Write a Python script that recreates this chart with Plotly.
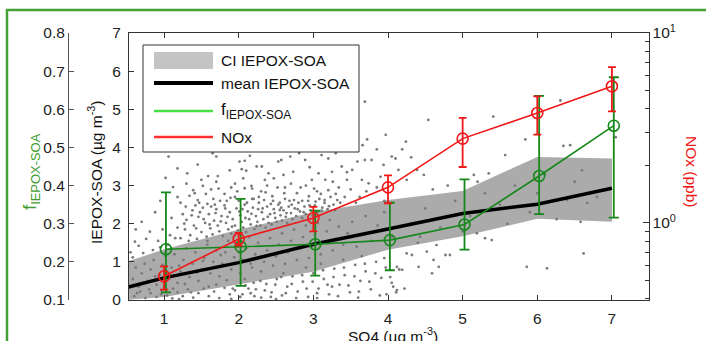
import numpy as np
import plotly.graph_objects as go

# ---------------- data ----------------
so4_bins = [1, 2, 3, 4, 5, 6, 7]

# f_IEPOX-SOA (left outer axis)
f_mean = [0.233, 0.240, 0.246, 0.257, 0.298, 0.425, 0.557]
f_high = [0.382, 0.365, 0.334, 0.355, 0.416, 0.635, 0.684]
f_low = [0.120, 0.137, 0.164, 0.178, 0.232, 0.325, 0.316]

# NOx (right log axis)
nox_mean = [0.524, 0.824, 1.062, 1.54, 2.78, 3.79, 5.24]
nox_high = [0.591, 0.886, 1.214, 1.78, 3.57, 4.64, 6.62]
nox_low = [0.446, 0.760, 0.903, 1.27, 1.97, 2.92, 3.87]

# mean IEPOX-SOA and its confidence interval
mean_x = [0.5, 1, 2, 3, 4, 5, 6, 7]
mean_soa = [0.33, 0.58, 0.98, 1.46, 1.86, 2.27, 2.51, 2.93]
ci_x = [0.5, 1, 2, 3, 4, 5, 6, 7]
ci_upper = [1.00, 1.33, 1.85, 2.30, 2.62, 2.86, 3.75, 3.71]
ci_lower = [0.00, 0.08, 0.40, 0.74, 1.32, 1.67, 2.13, 2.05]

scatter_so4 = [
    3.69, 3.72, 3.66, 2.81, 3.11, 3.20, 2.89, 2.57, 2.69, 2.24, 2.31, 2.53, 3.38, 3.59, 3.69, 3.78, 3.52, 3.25, 3.07, 2.73,
    1.06, 1.70, 2.01, 2.08, 1.31, 1.59, 1.72, 2.04, 2.10, 4.54, 3.97, 4.24, 4.19, 4.05, 4.10, 4.31, 3.94, 4.14, 4.39, 4.48,
    3.90, 4.25, 5.41, 5.57, 5.84, 6.31, 6.35, 6.44, 7.05, 5.35, 5.15,
    2.60, 2.35, 2.47, 2.98, 3.16, 3.26, 3.45, 3.65, 3.74, 1.50, 1.70, 2.06, 1.12, 1.52, 1.63, 1.41, 1.34, 1.81, 2.08, 2.17,
    0.95, 1.22, 1.45, 1.90, 2.30, 2.45, 2.62, 2.78, 2.90, 3.05, 3.30, 3.50, 3.62, 3.85, 3.95, 2.20, 2.55, 2.85, 3.15, 1.75,
    1.95, 2.38, 1.58,
    1.22, 1.28, 1.30, 1.35, 1.38, 1.40, 1.44, 1.46, 1.50, 1.52, 1.55, 1.57, 1.60, 1.62, 1.65, 1.67, 1.70, 1.72, 1.74, 1.77,
    1.79, 1.81, 1.83, 1.86, 1.88, 1.90, 1.92, 1.95, 1.97, 1.99, 2.02, 2.04, 2.06, 2.08, 2.10, 2.12, 2.14, 2.16, 2.19, 2.21,
    2.23, 2.25, 2.27, 2.29, 2.31, 2.33, 2.36, 2.38, 2.40, 2.42, 2.44, 2.47, 2.49, 2.51, 2.53, 2.56, 2.58, 2.60, 2.63, 2.65,
    2.67, 2.70, 2.72, 2.75, 2.77, 2.80, 2.82, 2.85, 2.88, 2.90, 2.93, 2.96, 2.99, 3.02, 3.05, 3.08, 3.12, 3.15, 3.19, 3.23,
    3.27, 3.32, 1.25, 1.33, 1.48, 1.58, 1.68, 1.84, 1.94, 2.00, 2.18, 2.34, 2.46, 2.62, 2.74, 1.42, 1.63, 2.05, 2.26, 2.57,
    0.70, 0.81, 0.61, 0.85, 0.72, 0.58, 0.66, 0.92, 0.98, 1.05, 1.10, 1.15, 0.88, 1.02, 0.76, 1.18, 0.95, 1.08, 0.62, 0.55,
    0.58, 0.62, 0.66, 0.70, 0.74, 0.78, 0.82, 0.86, 0.90, 0.94, 0.98, 1.02, 1.06, 1.10, 1.14, 1.18, 1.22, 1.26, 1.30, 1.34,
    1.38, 1.42, 1.46, 1.50, 1.54, 1.58, 1.62, 1.66, 1.70, 1.74, 1.78, 1.82, 1.86, 1.90, 1.94, 1.98, 2.02, 2.06, 2.10, 2.14,
    2.18, 2.22, 2.26, 2.30, 2.34, 2.38, 2.42, 2.46, 2.50, 2.54, 2.58, 2.62, 2.66, 2.70, 2.74, 2.78, 2.82, 2.86, 2.90, 2.94,
    2.98, 3.02, 3.06, 3.10, 3.14, 3.18, 3.22, 3.26, 3.30, 3.34, 3.40, 3.46, 3.52, 3.58, 3.64, 3.70, 3.78, 3.86, 3.95, 4.05,
    0.60, 0.68, 0.75, 0.82, 0.90, 0.97, 1.04, 1.11, 1.18, 1.25, 1.32, 1.39, 1.46, 1.53, 1.60, 1.67, 1.74, 1.81, 1.88, 1.95,
    2.02, 2.09, 2.16, 2.23, 2.30, 2.37, 2.44, 2.51, 2.58, 2.65, 2.72, 2.79, 2.86, 2.93, 3.00, 3.07, 3.14, 3.21, 3.28, 3.35,
    3.42, 3.49, 3.56, 3.63, 3.70, 3.77, 3.84, 3.91, 3.98, 4.05, 4.15, 4.22, 1.00, 1.70, 2.20, 2.60, 2.90, 3.10, 3.40, 3.65,
    3.95, 1.20, 1.90, 2.50, 3.05, 3.60, 3.25,
    4.30, 4.50, 4.70, 4.90, 5.10, 5.30, 5.50, 5.70, 5.90, 6.10, 6.50, 6.80, 4.40, 4.60, 5.00, 5.20, 6.00, 6.60, 4.80, 5.60,
    6.40, 6.67, 6.58, 6.26,
    5.30, 5.39, 5.19, 4.65, 4.83, 4.77, 4.61, 4.52, 4.68, 4.59, 4.41, 4.25, 4.19, 4.12, 4.07, 4.12, 5.86, 6.13, 6.62, 4.43,
    4.32,
    1.27, 1.37, 1.43, 1.53, 1.61, 1.69, 1.76, 1.85, 1.91, 2.01, 2.09, 2.17, 2.24, 2.32, 2.39, 2.48, 2.55, 2.64, 2.71, 2.79,
    2.87, 2.95, 3.03, 3.11, 3.21, 3.29, 3.36,
    1.18, 1.29, 1.39, 1.47, 1.56, 1.66, 1.73, 1.82, 1.89, 1.98, 2.11, 2.18, 2.27, 2.36, 2.43, 2.52, 2.61, 2.68, 2.83, 2.94,
    3.01, 3.10, 3.20, 3.34, 3.42, 3.57, 3.71,
    1.02, 1.18, 1.45, 1.65, 1.88, 2.15, 2.40, 2.65, 2.95, 3.30, 3.55, 3.85, 1.30, 1.95, 2.70, 3.45,
    0.64, 0.72, 0.80, 0.88, 0.96, 1.04, 1.12, 1.20, 1.28, 1.36, 1.44, 1.52, 1.60, 1.68, 1.76, 1.84, 1.92, 2.00, 2.08, 2.16,
    2.05, 2.13, 2.21, 2.29, 2.35, 2.43, 2.49, 2.57, 2.63, 2.71, 2.77, 2.85, 2.91, 2.99, 3.05, 3.13, 3.19, 3.27, 3.33, 3.41,
    3.47, 3.55, 3.61, 3.69, 3.75, 3.83, 3.89, 3.97, 4.03, 4.11,
]
scatter_soa = [
    5.20, 4.21, 4.06, 3.85, 3.80, 3.71, 3.67, 3.67, 3.76, 3.50, 3.50, 3.63, 3.50, 3.63, 3.67, 3.67, 3.41, 3.36, 3.32, 3.36,
    3.76, 3.76, 3.63, 3.65, 3.32, 3.25, 3.25, 3.43, 3.39, 4.72, 4.33, 4.15, 3.95, 3.76, 3.71, 3.74, 3.54, 3.41, 3.41, 3.28,
    3.23, 3.15, 4.81, 3.80, 4.21, 5.23, 4.04, 4.06, 4.27, 3.32, 3.28,
    3.28, 3.15, 3.19, 3.15, 3.15, 3.10, 3.15, 3.15, 3.06, 3.15, 3.10, 3.19, 2.96, 2.99, 2.90, 2.80, 2.73, 2.78, 2.93, 2.99,
    2.60, 2.55, 2.62, 2.95, 2.85, 2.72, 2.95, 2.80, 3.00, 2.85, 2.78, 2.90, 2.70, 2.95, 2.60, 2.65, 2.55, 2.60, 2.62, 2.60,
    2.70, 3.00, 2.52,
    1.62, 1.85, 2.10, 1.70, 2.35, 1.95, 1.60, 2.18, 1.78, 2.42, 2.02, 1.66, 2.25, 1.88, 1.72, 2.08, 2.38, 1.95, 1.80, 2.20,
    1.68, 2.48, 2.02, 1.85, 2.30, 1.74, 2.12, 1.95, 2.40, 1.82, 2.22, 2.05, 1.90, 2.50, 1.78, 2.32, 2.12, 1.98, 2.42, 1.86,
    2.20, 2.05, 2.55, 1.95, 2.30, 2.12, 1.90, 2.45, 2.02, 2.25, 1.98, 2.38, 2.15, 2.05, 2.50, 2.22, 2.08, 2.35, 2.18, 2.02,
    2.45, 2.28, 2.12, 2.40, 2.20, 2.55, 2.32, 2.15, 2.45, 2.25, 2.60, 2.35, 2.22, 2.48, 2.30, 2.65, 2.42, 2.55, 2.38, 2.70,
    2.50, 2.62, 2.25, 1.55, 2.30, 1.55, 2.50, 2.60, 1.68, 2.60, 2.65, 2.62, 2.60, 2.65, 2.62, 2.48, 2.45, 2.38, 2.38, 2.42,
    2.05, 1.79, 1.53, 1.31, 1.23, 1.12, 1.42, 1.55, 1.85, 1.45, 2.15, 1.62, 2.30, 1.25, 1.60, 1.90, 1.38, 1.70, 1.85, 1.25,
    0.55, 0.85, 0.35, 0.70, 0.95, 0.50, 0.80, 1.05, 0.40, 0.65, 0.92, 1.15, 0.55, 0.85, 1.20, 0.45, 0.75, 1.05, 1.35, 0.60,
    0.95, 1.25, 0.50, 0.80, 1.10, 1.45, 0.70, 1.00, 1.30, 0.62, 0.95, 1.25, 1.55, 0.80, 1.12, 1.40, 0.70, 1.05, 1.35, 1.65,
    0.85, 1.20, 1.50, 0.75, 1.00, 1.30, 1.62, 0.90, 1.15, 1.45, 1.75, 0.95, 1.25, 1.55, 1.85, 1.05, 1.35, 1.65, 1.95, 1.10,
    1.40, 1.72, 2.02, 1.20, 1.50, 1.80, 2.10, 1.30, 1.60, 1.92, 1.45, 1.75, 2.05, 1.40, 1.70, 2.20, 1.55, 1.95, 2.30, 1.65,
    0.10, 0.22, 0.05, 0.18, 0.08, 0.25, 0.12, 0.04, 0.20, 0.10, 0.28, 0.06, 0.18, 0.30, 0.10, 0.22, 0.05, 0.32, 0.15, 0.25,
    0.08, 0.38, 0.18, 0.28, 0.06, 0.42, 0.20, 0.55, 0.12, 0.35, 0.62, 0.22, 0.48, 0.08, 0.70, 0.30, 0.55, 0.15, 0.82, 0.40,
    0.65, 0.20, 0.92, 0.50, 0.75, 0.28, 1.00, 0.58, 0.15, 0.45, 0.80, 0.30, 0.35, 0.40, 0.45, 0.70, 0.85, 0.95, 1.05, 1.15,
    1.10, 0.02, 0.03, 0.02, 0.05, 0.06, 0.35,
    2.00, 2.40, 1.90, 2.60, 2.20, 2.80, 2.50, 3.00, 2.30, 3.30, 3.10, 2.70, 1.50, 2.90, 1.80, 3.10, 2.80, 3.40, 3.00, 2.00,
    2.62, 2.54, 2.05, 2.12,
    1.62, 1.57, 1.75, 1.44, 1.18, 1.18, 1.05, 1.27, 0.87, 0.70, 0.87, 1.22, 0.79, 0.87, 0.35, 0.26, 0.87, 0.83, 1.22, 1.66,
    1.18,
    2.00, 2.22, 1.88, 2.12, 1.98, 2.28, 2.06, 2.18, 1.92, 2.32, 2.15, 2.26, 1.94, 2.40, 2.18, 2.28, 2.36, 2.28, 2.50, 2.38,
    2.30, 2.48, 2.58, 2.34, 2.46, 2.36, 2.55,
    2.70, 2.45, 2.88, 2.55, 2.78, 2.65, 2.92, 2.40, 2.68, 2.85, 2.55, 2.92, 2.70, 2.82, 2.52, 2.95, 2.80, 2.60, 2.95, 2.72,
    2.92, 2.78, 2.88, 2.95, 2.70, 2.55, 2.85,
    3.20, 3.45, 3.55, 3.85, 3.40, 3.78, 3.32, 3.95, 3.48, 3.85, 4.35, 3.95, 3.05, 3.05, 3.05, 3.35,
    0.18, 0.45, 0.28, 0.62, 0.15, 0.75, 0.30, 0.90, 0.42, 0.20, 0.72, 1.02, 0.35, 0.85, 1.18, 0.52, 0.30, 1.25, 0.55, 0.95,
    0.15, 0.30, 0.10, 0.50, 0.25, 0.08, 0.40, 0.60, 0.18, 0.42, 0.05, 0.65, 0.30, 0.48, 0.18, 0.78, 0.40, 0.60, 0.10, 0.85,
    0.38, 0.62, 0.22, 0.95, 0.48, 0.70, 0.12, 0.85, 0.60, 0.20,
]

# ---------------- styling helpers ----------------
W, H = 706, 341
FONT = "Liberation Sans, Arial, sans-serif"
FS = 15.5
GREEN = "#16871a"
RED = "#f01818"
AXC = "#333333"


def px(x):
    return x / W


def py(y):
    return 1 - y / H


fig = go.Figure()

# confidence interval band
fig.add_trace(go.Scatter(
    x=ci_x + ci_x[::-1], y=ci_upper + ci_lower[::-1], fill="toself",
    fillcolor="#ababab", line=dict(width=0, color="#ababab"), mode="lines",
    hoverinfo="skip", showlegend=False))

# observations
fig.add_trace(go.Scatter(
    x=scatter_so4, y=scatter_soa, mode="markers",
    marker=dict(size=2.8, color="#7a7a7a"), hoverinfo="skip", showlegend=False))

# mean IEPOX-SOA
fig.add_trace(go.Scatter(
    x=mean_x, y=mean_soa, mode="lines", line=dict(color="black", width=3.5),
    showlegend=False))

# f IEPOX-SOA
fig.add_trace(go.Scatter(
    x=[v + 0.025 for v in so4_bins], y=f_mean, yaxis="y2", mode="lines+markers",
    line=dict(color=GREEN, width=1.6),
    marker=dict(symbol="circle-open", size=11, color=GREEN, line=dict(width=1.6, color=GREEN)),
    error_y=dict(type="data", symmetric=False,
                 array=[h - m for h, m in zip(f_high, f_mean)],
                 arrayminus=[m - l for m, l in zip(f_mean, f_low)],
                 color=GREEN, thickness=1.8, width=5),
    showlegend=False))

# NOx
fig.add_trace(go.Scatter(
    x=so4_bins, y=nox_mean, yaxis="y3", mode="lines+markers",
    line=dict(color=RED, width=1.6),
    marker=dict(symbol="circle-open", size=11, color=RED, line=dict(width=1.6, color=RED)),
    error_y=dict(type="data", symmetric=False,
                 array=[h - m for h, m in zip(nox_high, nox_mean)],
                 arrayminus=[m - l for m, l in zip(nox_mean, nox_low)],
                 color=RED, thickness=1.8, width=4),
    showlegend=False))

tickfont = dict(family=FONT, size=FS, color="#222222")
dom_y = [py(300), py(33)]

fig.update_layout(
    width=W, height=H, autosize=False,
    margin=dict(l=0, r=0, t=0, b=0, pad=0),
    paper_bgcolor="white", plot_bgcolor="white",
    showlegend=False,
    font=dict(family=FONT, size=FS, color="#222222"),
    xaxis=dict(domain=[px(129), px(648.5)], range=[0.53, 7.49], tickvals=so4_bins,
               ticks="inside", ticklen=5, tickcolor=AXC, showline=True, linecolor=AXC,
               linewidth=1, mirror="ticks", showgrid=False, zeroline=False,
               tickfont=tickfont, automargin=False, anchor="y", ticklabelstandoff=4),
    yaxis=dict(domain=dom_y, range=[0, 7], dtick=1, ticks="inside", ticklen=5,
               tickcolor=AXC, showline=True, linecolor=AXC, linewidth=1, mirror=True,
               showgrid=False, zeroline=False, tickfont=tickfont, automargin=False,
               anchor="x", ticklabelstandoff=4),
    yaxis2=dict(overlaying="y", anchor="free", position=px(68), side="left",
                range=[0.1, 0.8], dtick=0.1, tickformat=".1f", ticks="inside", ticklen=5,
                tickcolor="#555555", showline=True, linecolor="#555555", linewidth=1,
                showgrid=False, zeroline=False, tickfont=tickfont, automargin=False),
    yaxis3=dict(overlaying="y", anchor="x", side="right", type="log",
                range=[np.log10(0.393), 1], tickvals=[1, 10],
                ticktext=["10<sup>0</sup>", "10<sup>1</sup>"], ticks="inside", ticklen=6,
                tickcolor=AXC, showline=True, linecolor=AXC, linewidth=1,
                minor=dict(tickvals=[0.4, 0.5, 0.6, 0.7, 0.8, 0.9, 2, 3, 4, 5, 6, 7, 8, 9],
                           ticks="inside", ticklen=4, tickcolor=AXC),
                showgrid=False, zeroline=False, tickfont=tickfont, automargin=False),
)

# outer green frame
shapes = [dict(type="rect", xref="paper", yref="paper", x0=px(7), x1=1.2, y0=-0.2, y1=py(10),
               line=dict(color="#45a035", width=2.5), fillcolor="rgba(0,0,0,0)", layer="below")]

# legend box
lx0, lx1, ly0, ly1 = 143, 359, 45, 152
sw0, sw1 = 154, 213
shapes += [
    dict(type="rect", xref="paper", yref="paper", x0=px(lx0), x1=px(lx1), y0=py(ly1), y1=py(ly0),
         fillcolor="white", line=dict(color=AXC, width=1), layer="above"),
    dict(type="rect", xref="paper", yref="paper", x0=px(sw0), x1=px(sw1), y0=py(69), y1=py(52),
         fillcolor="#c4c4c4", line=dict(width=0), layer="above"),
    dict(type="line", xref="paper", yref="paper", x0=px(sw0), x1=px(sw1), y0=py(83), y1=py(83),
         line=dict(color="black", width=4), layer="above"),
    dict(type="line", xref="paper", yref="paper", x0=px(sw0), x1=px(sw1), y0=py(111), y1=py(111),
         line=dict(color="#44e044", width=2.5), layer="above"),
    dict(type="line", xref="paper", yref="paper", x0=px(sw0), x1=px(sw1), y0=py(137), y1=py(137),
         line=dict(color="#ff3030", width=2.5), layer="above"),
]
fig.update_layout(shapes=shapes)

legend_labels = ["CI IEPOX-SOA", "mean IEPOX-SOA", "f<sub>IEPOX-SOA</sub>", "NOx"]
legend_rows = [60, 83, 111, 137]
legend_sizes = [FS, FS, 17, FS]
ann = []
for lab, yy, fs in zip(legend_labels, legend_rows, legend_sizes):
    ann.append(dict(xref="paper", yref="paper", x=px(219), y=py(yy), text=lab, showarrow=False,
                    xanchor="left", yanchor="middle", font=dict(family=FONT, size=fs, color="#111111")))

# axis titles
ann += [
    dict(xref="paper", yref="paper", x=px(95), y=py(172), text="IEPOX-SOA (\u00b5g m<sup>-3</sup>)",
         textangle=-90, showarrow=False, xanchor="center", yanchor="middle",
         font=dict(family=FONT, size=FS, color="#111111")),
    dict(xref="paper", yref="paper", x=px(31), y=py(172), text="f<sub>IEPOX-SOA</sub>",
         textangle=-90, showarrow=False, xanchor="center", yanchor="middle",
         font=dict(family=FONT, size=18.5, color="#3f9a2f")),
    dict(xref="paper", yref="paper", x=px(692), y=py(172), text="NOx (ppb)",
         textangle=90, showarrow=False, xanchor="center", yanchor="middle",
         font=dict(family=FONT, size=FS, color=RED)),
    dict(xref="paper", yref="paper", x=px(393), y=py(335), text="SO4 (\u00b5g m<sup>-3</sup>)",
         showarrow=False, xanchor="center", yanchor="middle",
         font=dict(family=FONT, size=FS, color="#111111")),
]
fig.update_layout(annotations=ann)

fig.write_html("out.html", config={"displayModeBar": False},
               post_script="document.body.style.margin='0';")
